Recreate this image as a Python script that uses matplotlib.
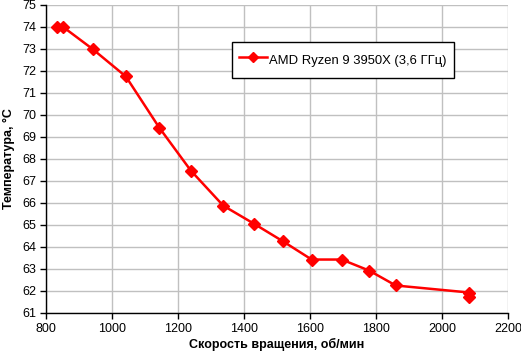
import matplotlib
matplotlib.use('Agg')
import matplotlib.pyplot as plt

# Данные
rpm = [833, 852, 941, 1042, 1143, 1239, 1337, 1430, 1519, 1605, 1696, 1779, 1860, 2083, 2083]
temp = [74.0, 74.0, 73.0, 71.75, 69.43, 67.47, 65.88, 65.06, 64.25, 63.43, 63.43, 62.93, 62.25, 61.93, 61.72]
serie = 'AMD Ryzen 9 3950X (3,6 ГГц)'
xticks = [800, 1000, 1200, 1400, 1600, 1800, 2000, 2200]
yticks = list(range(61, 76))

plt.rcParams['font.family'] = ['Liberation Sans', 'DejaVu Sans']

fig = plt.figure(figsize=(5.21, 3.55), dpi=100)
ax = fig.add_axes([46 / 521, 1 - 313 / 355, 462 / 521, 308 / 355])

ax.plot(rpm, temp, color='#ff0000', lw=1.8, marker='D', ms=6.5,
        mec='#ff0000', mfc='#ff0000', label=serie, clip_on=False, zorder=3)

ax.set_xlim(800, 2200)
ax.set_ylim(61, 75)
ax.set_xticks(xticks)
ax.set_yticks(yticks)
ax.grid(True, color='#c0c0c0', lw=1)
ax.set_axisbelow(True)
ax.spines['top'].set_visible(False)
ax.spines['right'].set_visible(False)
ax.spines['left'].set_linewidth(1)
ax.spines['bottom'].set_linewidth(1)
ax.tick_params(direction='out', length=4, width=1, labelsize=9, pad=3)

ax.set_xlabel('Скорость вращения, об/мин', fontsize=9, fontweight='bold', labelpad=2)
ax.set_ylabel('Температура, °С', fontsize=9, fontweight='bold', labelpad=5)

leg = ax.legend(loc='upper left', bbox_to_anchor=((232 - 46) / 462, (313 - 42) / 308),
                borderaxespad=0, fontsize=9.4, frameon=True, fancybox=False,
                edgecolor='black', framealpha=1, borderpad=0.55, handlelength=2.1,
                handleheight=2.2, handletextpad=0.2, markerscale=0.8)
leg.get_frame().set_linewidth(1)

fig.savefig('out.png', dpi=100)
